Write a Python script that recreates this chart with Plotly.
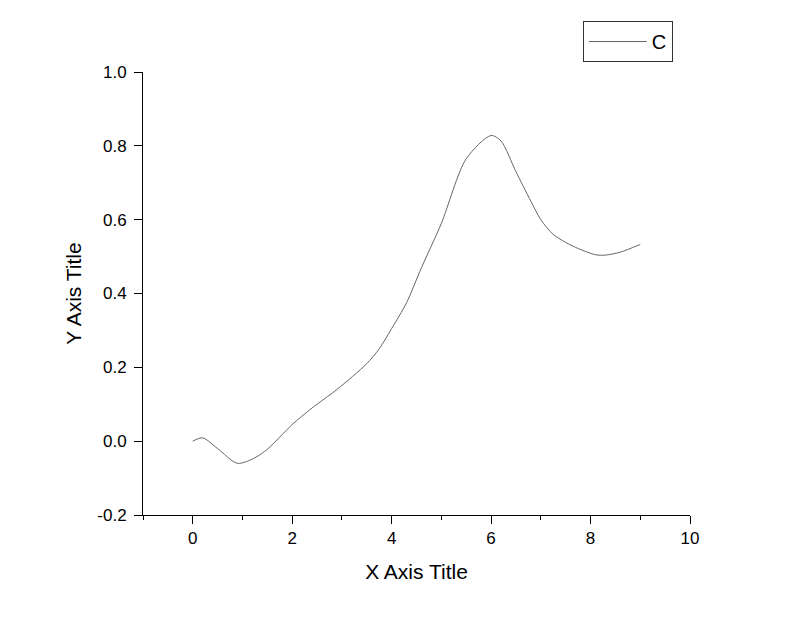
import plotly.graph_objects as go

# values
x_vals = [0, 0.2, 0.5, 0.9, 1.25, 1.5, 1.8, 2.0, 2.4, 2.9, 3.5, 3.75, 4.0, 4.3,
          4.6, 5.0, 5.5, 6.0, 6.2, 6.5, 6.8, 7.0, 7.25, 7.65, 8.1, 8.3, 8.6, 9.0]
y_vals = [0, 0.009, -0.02, -0.06, -0.045, -0.022, 0.018, 0.045, 0.09, 0.14, 0.21,
          0.25, 0.305, 0.375, 0.47, 0.59, 0.765, 0.828, 0.813, 0.73, 0.65, 0.60,
          0.56, 0.528, 0.505, 0.504, 0.512, 0.533]
series_name = 'C'
y_ticks = [-0.2, 0.0, 0.2, 0.4, 0.6, 0.8, 1.0]
y_ticktext = ['-0.2', '0.0', '0.2', '0.4', '0.6', '0.8', '1.0']

font_name = 'Liberation Sans, Arial'

fig = go.Figure(data=go.Scatter(x=x_vals, y=y_vals, mode='lines', name=series_name,
                                line=dict(color='#666666', width=1, shape='spline', smoothing=0.8)))

axis_common = dict(showgrid=False, zeroline=False, showline=True, linecolor='black', linewidth=1,
                   ticks='outside', ticklen=8, tickwidth=1, tickcolor='black',
                   tickfont=dict(family=font_name, size=17, color='black'),
                   minor=dict(ticks='outside', ticklen=4, tickwidth=1, tickcolor='black', nticks=2))

fig.update_xaxes(range=[-1, 10], tick0=0, dtick=2,
                 title=dict(text='X Axis Title', standoff=16,
                            font=dict(family=font_name, size=21, color='black')), **axis_common)
fig.update_yaxes(range=[-0.2, 1.0], tickvals=y_ticks, ticktext=y_ticktext, ticklabelstandoff=4,
                 title=dict(text='Y Axis Title', standoff=9,
                            font=dict(family=font_name, size=21, color='black')), **axis_common)

fig.update_layout(width=800, height=617, plot_bgcolor='white', paper_bgcolor='white',
                  margin=dict(l=135, r=118, t=64, b=110),
                  showlegend=True,
                  legend=dict(x=0.804, y=1.115, xanchor='left', yanchor='top', itemwidth=58,
                              bordercolor='#333333', borderwidth=1, bgcolor='white',
                              font=dict(family=font_name, size=20, color='black')))

fig.write_html("out.html")
